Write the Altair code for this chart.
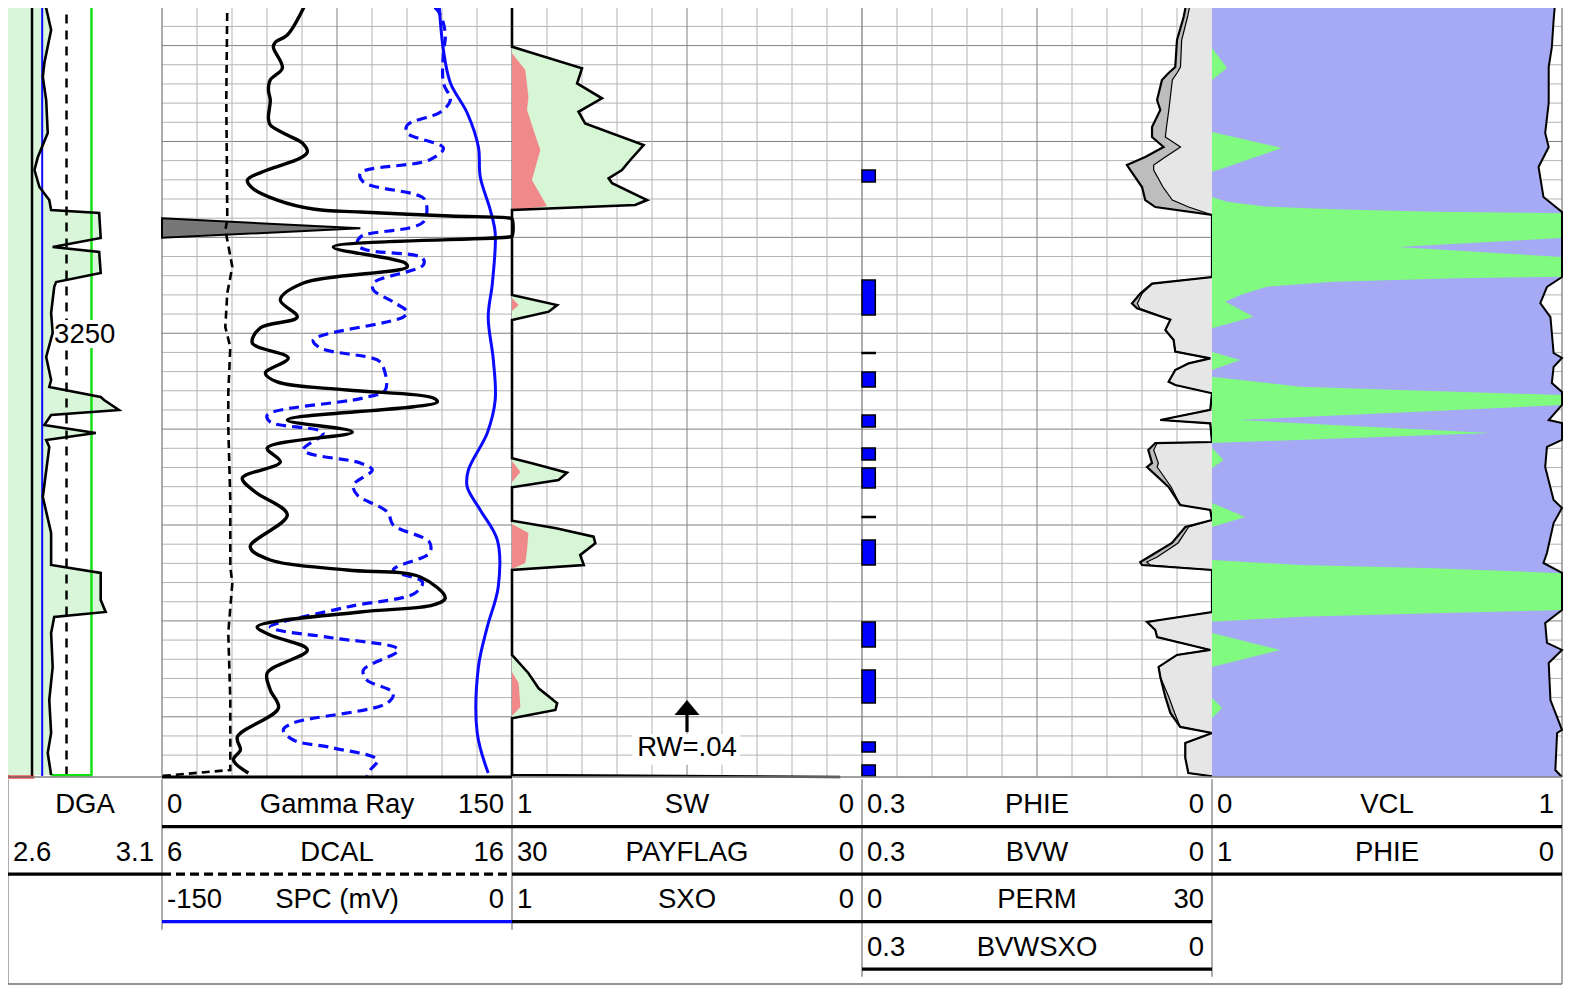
import altair as alt
import pandas as pd

DEPTH_TOP, DEPTH_BOT = 3216.08, 3296.28
DEPTH_MARK = 3250

DGA_DOM = [2.6, 3.1]
GR_DOM = [0, 150]
DCAL_DOM = [6, 16]
SPC_DOM = [-150, 0]
SW_DOM = [1, 0]
PHIE_DOM = [0.3, 0]
PERM_DOM = [0, 30]
VCL_DOM = [0, 1]

# Track 1 : DGA (depth, value)
DGA_CURVE = [(3215.25, 2.718), (3218.38, 2.740), (3221.82, 2.718), (3223.28, 2.713), (3225.68, 2.724),
             (3229.12, 2.729), (3231.62, 2.697), (3232.98, 2.686), (3234.75, 2.702), (3236.11, 2.734),
             (3237.15, 2.740), (3237.46, 2.896), (3240.07, 2.901), (3241.01, 2.745), (3241.53, 2.896),
             (3243.72, 2.901), (3244.66, 2.756), (3245.18, 2.750), (3247.89, 2.740), (3249.97, 2.745),
             (3252.48, 2.724), (3254.88, 2.740), (3255.61, 2.734), (3256.65, 2.901), (3256.96, 2.912),
             (3258.0, 2.960), (3258.53, 2.740), (3259.57, 2.718), (3260.4, 2.885), (3261.13, 2.724),
             (3261.86, 2.734), (3267.08, 2.713), (3270.83, 2.740), (3274.17, 2.740), (3275.0, 2.901),
             (3277.82, 2.901), (3279.07, 2.917), (3279.59, 2.750), (3281.26, 2.740), (3284.81, 2.745),
             (3288.25, 2.734), (3291.69, 2.740), (3293.77, 2.729), (3296.07, 2.740)]
T1_BLACK = 2.678
T1_BLUE = 2.711
T1_DASHED = 2.79
T1_GREEN_CURVE = [(3215.25, 2.871), (3296.1, 2.871), (3296.1, 2.74)]
T1_RED = [2.6, 2.685]
DEPTH_LABEL_BOX = [2.746, 2.953, 3248.62, 3251.54]
DEPTH_LABEL_X = 2.849

# Track 2 : Gamma Ray, DCAL, SPC and a dashed blue curve (on the SPC scale)
GR_CURVE = [(3215.25, 62.3), (3218.9, 53.7), (3219.63, 48.6), (3220.15, 47.7), (3222.34, 51.6), (3223.59, 46.4),
            (3224.64, 45.6), (3225.68, 46.4), (3227.56, 45.6), (3228.29, 46.4), (3229.33, 53.7), (3230.16, 60.1),
            (3231.1, 62.3), (3231.73, 59.3), (3232.98, 45.1), (3234.02, 36.6), (3234.85, 38.7), (3236.11, 49.4),
            (3237.04, 64.8), (3237.36, 85.0), (3237.77, 123.6), (3237.98, 148.8), (3238.09, 150), (3239.86, 150),
            (3239.96, 148.8), (3241.01, 73.4), (3242.68, 104.3), (3243.09, 105.1), (3244.76, 60.6), (3246.53, 50.7),
            (3248.31, 58.0), (3249.45, 42.1), (3251.02, 38.7), (3252.58, 54.1), (3254.15, 44.3), (3255.08, 49.4),
            (3255.92, 79.4), (3256.75, 116.3), (3257.17, 118.0), (3259.05, 53.7), (3260.3, 81.6), (3261.97, 45.1),
            (3263.43, 50.7), (3265.1, 34.4), (3266.56, 40.0), (3268.95, 53.7), (3272.29, 37.8), (3273.65, 46.4),
            (3274.69, 79.4), (3275.42, 110.7), (3277.61, 121.4), (3278.34, 116.3), (3279.07, 85.0), (3280.63, 40.8),
            (3281.47, 46.4), (3283.03, 62.3), (3285.43, 45.1), (3287.2, 46.4), (3289.08, 49.9), (3292.1, 32.3),
            (3293.46, 33.6), (3294.5, 30.6), (3295.86, 37.0)]
GR_BACKUP = [(3238.01, 0), (3239.06, 85.0), (3240.04, 0)]
DCAL_CURVE = [(3215.25, 7.866), (3225.68, 7.837), (3238.19, 7.866), (3239.23, 7.809), (3240.28, 7.866),
              (3243.09, 8.009), (3245.8, 7.866), (3249.35, 7.809), (3251.44, 7.951), (3256.23, 7.894),
              (3259.78, 7.894), (3267.39, 7.951), (3274.38, 7.951), (3276.05, 8.009), (3281.26, 7.894),
              (3288.25, 7.951), (3295.55, 7.951), (3296.17, 6.0)]
SPC_CURVE = [(3215.25, -31.4), (3220.46, -29.4), (3223.9, -26.4), (3227.03, -19.2), (3230.58, -14.4),
             (3233.71, -13.6), (3237.15, -9.3), (3239.55, -7.2), (3244.76, -8.4), (3248.31, -10.2),
             (3252.79, -8.0), (3256.96, -7.2), (3260.4, -10.6), (3264.26, -18.7), (3266.03, -19.2),
             (3268.43, -13.6), (3271.56, -6.3), (3276.46, -5.9), (3280.63, -10.6), (3284.81, -14.4),
             (3291.69, -14.9), (3295.86, -10.2)]
SPD_CURVE = [(3215.25, -39.3), (3216.29, -32.0), (3218.69, -28.6), (3220.78, -29.4), (3223.9, -29.4),
             (3225.68, -26.4), (3226.93, -30.6), (3228.29, -44.9), (3229.12, -44.9), (3230.68, -29.4),
             (3231.93, -35.4), (3233.29, -65.0), (3234.23, -63.7), (3235.58, -40.6), (3236.11, -37.2),
             (3238.4, -38.0), (3239.96, -65.0), (3240.8, -66.3), (3241.32, -62.2), (3242.15, -38.4),
             (3242.88, -38.0), (3244.76, -59.4), (3245.49, -59.4), (3246.74, -50.9), (3247.78, -44.9),
             (3248.31, -46.6), (3250.71, -85.2), (3251.54, -82.2), (3252.79, -57.7), (3253.52, -55.2),
             (3255.92, -54.3), (3256.75, -63.7), (3258.53, -104.9), (3259.26, -103.6), (3260.4, -80.9),
             (3262.18, -89.4), (3263.53, -65.0), (3264.26, -59.9), (3265.83, -68.0), (3266.87, -66.3),
             (3268.64, -53.4), (3270.0, -50.9), (3271.77, -35.4), (3272.92, -35.4), (3274.69, -50.9),
             (3275.94, -38.4), (3277.09, -41.5), (3278.55, -70.6), (3280.63, -103.6), (3280.95, -100.6),
             (3281.78, -76.6), (3283.03, -48.7), (3285.12, -63.7), (3286.16, -62.2), (3287.52, -50.9),
             (3288.56, -53.4), (3290.65, -93.7), (3291.37, -98.0), (3292.42, -93.7), (3293.25, -76.6),
             (3294.5, -57.7), (3295.55, -60.7), (3296.17, -62.2)]

# Track 3 : SW and SXO
SW_CURVE = [(3215.25, 1.0), (3220.12, 1.0), (3222.37, 0.80), (3223.94, 0.814), (3225.5, 0.743), (3226.9, 0.81),
            (3228.11, 0.791), (3230.37, 0.624), (3231.93, 0.662), (3232.98, 0.686), (3233.84, 0.724),
            (3234.36, 0.714), (3236.11, 0.614), (3236.63, 0.648), (3237.15, 1.0), (3246.01, 1.0),
            (3247.06, 0.871), (3247.75, 0.895), (3248.62, 1.0), (3263.04, 1.0), (3263.56, 0.943),
            (3264.54, 0.843), (3265.3, 0.867), (3266.07, 1.0), (3269.55, 1.0), (3270.34, 0.874),
            (3271.22, 0.767), (3271.9, 0.762), (3273.12, 0.805), (3274.17, 0.795), (3274.69, 1.0),
            (3283.55, 1.0), (3285.46, 0.953), (3287.03, 0.924), (3288.59, 0.871), (3289.29, 0.876),
            (3290.15, 1.0), (3296.07, 1.0), (3296.28, 0.062)]
SXO_CURVE = [(3215.25, 1.0), (3220.81, 1.0), (3222.55, 0.962), (3225.33, 0.953), (3226.72, 0.957),
             (3229.85, 0.929), (3230.89, 0.919), (3234.02, 0.943), (3236.45, 0.905), (3236.75, 0.9),
             (3237.15, 1.0), (3246.33, 1.0), (3247.06, 0.981), (3247.68, 1.0), (3263.32, 1.0),
             (3264.47, 0.976), (3265.51, 1.0), (3269.89, 1.0), (3270.83, 0.953), (3272.6, 0.957),
             (3273.96, 0.962), (3274.59, 1.0), (3285.33, 1.0), (3286.47, 0.981), (3288.98, 0.976),
             (3289.91, 1.0), (3296.28, 1.0)]
RW_LABEL = "RW=.04"
RW_SW = 0.5
RW_HEAD, RW_STEM = 3289.03, (3289.81, 3291.58)
RW_TEXT_DEPTH = 3294.08
RW_BOX = [0.656, 0.348, 3291.8, 3295.0]

# Track 4 : PHIE / BVW (depth, phie, bvw) and PERM blocks (top, bottom, perm)
PHIE_BVW = [(3215.25, 0.0214, 0.018), (3217.02, 0.0243, 0.021), (3219.42, 0.030, 0.026), (3222.24, 0.0315, 0.027),
            (3222.86, 0.0372, 0.030), (3223.59, 0.0429, 0.034), (3225.68, 0.0471, 0.036), (3226.72, 0.0443, 0.037),
            (3228.49, 0.0514, 0.039), (3229.54, 0.0514, 0.040), (3230.58, 0.0415, 0.027), (3231.62, 0.0572, 0.040),
            (3232.46, 0.0729, 0.050), (3232.98, 0.070, 0.050), (3234.75, 0.060, 0.042), (3236.11, 0.0572, 0.034),
            (3236.84, 0.0486, 0.020), (3237.67, 0.0, 0.0), (3244.14, 0.0, 0.0), (3244.83, 0.0514, 0.051),
            (3245.87, 0.0615, 0.060), (3246.9, 0.0686, 0.064), (3247.4, 0.0643, 0.062), (3248.59, 0.0357, 0.0357),
            (3249.66, 0.040, 0.040), (3250.71, 0.0329, 0.0329), (3251.92, 0.0315, 0.0315), (3252.62, 0.0015, 0.0015),
            (3253.14, 0.020, 0.020), (3253.83, 0.0315, 0.0315), (3255.05, 0.0372, 0.0372), (3255.4, 0.0315, 0.0315),
            (3256.26, 0.0, 0.0), (3258.0, 0.0015, 0.0015), (3259.05, 0.0443, 0.0443), (3259.4, 0.0015, 0.0015),
            (3261.34, 0.0, 0.0), (3261.45, 0.0486, 0.047), (3262.18, 0.0546, 0.050), (3263.53, 0.0514, 0.046),
            (3263.95, 0.0557, 0.047), (3266.03, 0.0372, 0.035), (3267.91, 0.0272, 0.0272), (3268.43, 0.0015, 0.0015),
            (3269.48, 0.0, 0.0), (3270.21, 0.0229, 0.020), (3271.87, 0.0343, 0.029), (3273.33, 0.0543, 0.047),
            (3273.86, 0.0615, 0.056), (3274.17, 0.060, 0.053), (3274.69, 0.0, 0.0), (3279.07, 0.0, 0.0),
            (3280.11, 0.0557, 0.0557), (3280.95, 0.0486, 0.0486), (3281.68, 0.0471, 0.0471), (3283.03, 0.0015, 0.0015),
            (3283.55, 0.030, 0.030), (3284.8, 0.0458, 0.0458), (3285.85, 0.0443, 0.0443), (3287.93, 0.040, 0.037),
            (3289.6, 0.0357, 0.032), (3291.06, 0.0272, 0.0272), (3291.69, 0.0, 0.0), (3292.73, 0.0229, 0.0229),
            (3294.29, 0.0229, 0.0229), (3295.86, 0.0203, 0.0203), (3296.2, 0.0, 0.0)]
PERM_BLOCKS = [(3232.98, 3234.23, 1.14), (3244.45, 3248.10, 1.14), (3252.01, 3252.11, 1.14),
               (3254.04, 3255.61, 1.14), (3258.53, 3259.78, 1.14), (3261.97, 3263.22, 1.14),
               (3264.05, 3266.14, 1.14), (3269.11, 3269.22, 1.14), (3271.56, 3274.17, 1.14),
               (3280.11, 3282.72, 1.14), (3285.12, 3288.56, 1.14), (3292.63, 3293.67, 1.14),
               (3295.02, 3296.17, 1.14)]

# Track 5 : VCL and the green fill (on the 0-1 scale)
VCL_CURVE = [(3215.25, 0.981), (3217.34, 0.976), (3220.15, 0.971), (3222.24, 0.962), (3225.99, 0.962),
             (3229.12, 0.952), (3230.58, 0.962), (3232.66, 0.933), (3235.79, 0.947), (3237.36, 1.0),
             (3244.14, 1.0), (3245.18, 0.957), (3246.85, 0.938), (3248.31, 0.967), (3252.06, 0.976),
             (3252.58, 1.0), (3253.52, 0.976), (3255.19, 0.971), (3256.13, 1.0), (3257.48, 1.0),
             (3259.05, 0.962), (3259.36, 1.0), (3261.13, 1.0), (3261.86, 0.957), (3263.95, 0.952),
             (3267.39, 0.976), (3268.22, 1.0), (3269.79, 0.976), (3272.92, 0.957), (3273.96, 0.947),
             (3275.0, 1.0), (3278.86, 1.0), (3280.22, 0.952), (3282.3, 0.957), (3283.03, 1.0),
             (3284.39, 0.962), (3288.25, 0.967), (3291.37, 1.0), (3291.69, 0.986), (3295.55, 0.981),
             (3296.28, 1.0)]
GREEN_CURVE = [(3215.25, 0), (3220.26, 0), (3222.34, 0.043), (3223.59, 0), (3229.01, 0), (3230.68, 0.20),
               (3233.19, 0), (3235.79, 0), (3236.28, 0.043), (3236.8, 0.157), (3237.07, 0.347), (3237.33, 0.633),
               (3237.49, 1.0), (3240.07, 1.0), (3241.01, 0.529), (3242.05, 1.0), (3244.1, 1.0), (3244.27, 0.70),
               (3244.63, 0.347), (3245.15, 0.157), (3246.01, 0.081), (3246.71, 0.038), (3248.28, 0.119),
               (3249.49, 0), (3251.96, 0), (3252.79, 0.081), (3253.83, 0), (3254.53, 0), (3255.58, 0.252),
               (3255.92, 0.538), (3256.44, 1.0), (3257.48, 1.0), (3259.05, 0.076), (3260.4, 0.795),
               (3261.45, 0), (3261.97, 0), (3263.22, 0.033), (3264.05, 0), (3267.7, 0), (3269.16, 0.095),
               (3270.21, 0), (3273.65, 0), (3274.17, 0.252), (3274.51, 0.633), (3275.03, 1.0), (3278.86, 1.0),
               (3279.2, 0.633), (3279.56, 0.252), (3280.08, 0), (3281.26, 0), (3283.03, 0.195), (3284.8, 0),
               (3288.04, 0), (3289.08, 0.029), (3290.12, 0), (3296.28, 0)]

# Header: (track, row, left, centre, right)
HEADER_TEXT = [(0, 1, "", "DGA", ""), (0, 2, "2.6", "", "3.1"),
               (1, 1, "0", "Gamma Ray", "150"), (1, 2, "6", "DCAL", "16"), (1, 3, "-150", "SPC (mV)", "0"),
               (2, 1, "1", "SW", "0"), (2, 2, "30", "PAYFLAG", "0"), (2, 3, "1", "SXO", "0"),
               (3, 1, "0.3", "PHIE", "0"), (3, 2, "0.3", "BVW", "0"), (3, 3, "0", "PERM", "30"),
               (3, 4, "0.3", "BVWSXO", "0"),
               (4, 1, "0", "VCL", "1"), (4, 2, "1", "PHIE", "0")]
HEADER_BLACK_LINES = [(1, 1), (2, 1), (3, 1), (4, 1), (0, 2), (2, 2), (3, 2), (4, 2), (2, 3), (3, 3), (3, 4)]
HEADER_DASHED_LINES = [(1, 2)]
HEADER_BLUE_LINES = [(1, 3)]
HEADER_SEPARATORS = [(0, 4.31), (1, 3.17), (2, 3.17), (3, 4.16), (4, 4.16), (5, 4.31)]

# ---------------- layout ----------------
EDGES = [0, 154, 504, 854, 1204, 1554]
W, H = 1556, 977
PLOT_H = 769
ROW_PX = [771.2, 961.2]
FONT = "Liberation Sans"
FS = 27.5
BLUE = "#0a0aff"


def ys(field="depth"):
    return alt.Y(f"{field}:Q", axis=None,
                 scale=alt.Scale(domain=[DEPTH_TOP, DEPTH_BOT], range=[0, PLOT_H], nice=False, zero=False))


def xt(field, t, dom):
    return alt.X(f"{field}:Q", axis=None,
                 scale=alt.Scale(domain=dom, range=[EDGES[t], EDGES[t + 1]], nice=False, zero=False))


def xl(field):
    return alt.X(f"{field}:Q", axis=None,
                 scale=alt.Scale(domain=[0, 1, 2, 3, 4, 5], range=EDGES, nice=False, zero=False))


def yr(field):
    return alt.Y(f"{field}:Q", axis=None, scale=alt.Scale(domain=[0, 4], range=ROW_PX, nice=False, zero=False))


def frame(pairs, cols):
    d = pd.DataFrame(pairs, columns=cols)
    d["i"] = range(len(d))
    return d


def line(df, field, t, dom, color, width, dash=None, interp="linear"):
    kw = dict(color=color, strokeWidth=width, interpolate=interp)
    if dash:
        kw["strokeDash"] = dash
    return alt.Chart(df).mark_line(**kw).encode(x=xt(field, t, dom), y=ys(), order="i:Q")


def area(df, field, base, t, dom, fill, **kw):
    return alt.Chart(df).mark_area(orient="horizontal", fill=fill, **kw).encode(
        x=xt(field, t, dom), x2=base, y=ys())


layers = []

# grid
gh_minor, gh_major, gv_minor, gv_major = [], [], [], []
for t in range(1, 5):
    for d in range(3218, 3296, 2):
        (gh_major if d % 10 == 0 else gh_minor).append((t, t + 1, d))
    for k in range(1, 10):
        (gv_major if k == 5 else gv_minor).append((t + k / 10, DEPTH_TOP, DEPTH_BOT))
for rows, col in [(gh_minor, "#b4b4b4"), (gh_major, "#808080")]:
    layers.append(alt.Chart(pd.DataFrame(rows, columns=["a", "b", "depth"])).mark_rule(color=col, strokeWidth=1)
                  .encode(x=xl("a"), x2="b:Q", y=ys()))
for rows, col in [(gv_minor, "#b4b4b4"), (gv_major, "#808080")]:
    layers.append(alt.Chart(pd.DataFrame(rows, columns=["tx", "d0", "d1"])).mark_rule(color=col, strokeWidth=1)
                  .encode(x=xl("tx"), y=ys("d0"), y2="d1:Q"))
sep = pd.DataFrame({"tx": [0, 1, 2, 3, 4, 5], "d0": DEPTH_TOP, "d1": DEPTH_BOT})
layers.append(alt.Chart(sep).mark_rule(color="#808080", strokeWidth=1.3).encode(x=xl("tx"), y=ys("d0"), y2="d1:Q"))

# track 1
dga = frame(DGA_CURVE, ["depth", "v"])
layers.append(area(dga, "v", alt.datum(DGA_DOM[0]), 0, DGA_DOM, "#daf6da"))
for val, col, wdt, dash in [(T1_BLACK, "black", 2.5, None), (T1_BLUE, BLUE, 2, None),
                            (T1_DASHED, "black", 2.5, [9, 7])]:
    kw = dict(color=col, strokeWidth=wdt)
    if dash:
        kw["strokeDash"] = dash
    layers.append(alt.Chart(pd.DataFrame({"v": [val], "d0": [DEPTH_TOP - 1], "d1": [DEPTH_BOT - 0.1]}))
                  .mark_rule(**kw).encode(x=xt("v", 0, DGA_DOM), y=ys("d0"), y2="d1:Q"))
layers.append(line(frame(T1_GREEN_CURVE, ["depth", "v"]), "v", 0, DGA_DOM, "#14e014", 2.5))
box = pd.DataFrame({"x0": [DEPTH_LABEL_BOX[0]], "x1": [DEPTH_LABEL_BOX[1]],
                    "d0": [DEPTH_LABEL_BOX[2]], "d1": [DEPTH_LABEL_BOX[3]]})
layers.append(alt.Chart(box).mark_rect(color="white").encode(x=xt("x0", 0, DGA_DOM), x2="x1:Q",
                                                              y=ys("d0"), y2="d1:Q"))
layers.append(line(dga, "v", 0, DGA_DOM, "black", 2.6))
layers.append(alt.Chart(pd.DataFrame({"v": [T1_RED[0]], "v2": [T1_RED[1]], "depth": [DEPTH_BOT]}))
              .mark_rule(color="#e00000", strokeWidth=3).encode(x=xt("v", 0, DGA_DOM), x2="v2:Q", y=ys()))
layers.append(alt.Chart(pd.DataFrame({"v": [DEPTH_LABEL_X], "depth": [DEPTH_MARK], "label": [str(DEPTH_MARK)]}))
              .mark_text(font=FONT, fontSize=FS, align="center", baseline="alphabetic", dy=10, color="black")
              .encode(x=xt("v", 0, DGA_DOM), y=ys(), text="label:N"))

# track 2
layers.append(area(frame(GR_BACKUP, ["depth", "v"]), "v", alt.datum(0), 1, GR_DOM, "#777777",
                   stroke="black", strokeWidth=2))
layers.append(line(frame(DCAL_CURVE, ["depth", "v"]), "v", 1, DCAL_DOM, "black", 2.6, [8, 5]))
layers.append(line(frame(SPD_CURVE, ["depth", "v"]), "v", 1, SPC_DOM, BLUE, 3.2, [10, 6], "catmull-rom"))
layers.append(line(frame(SPC_CURVE, ["depth", "v"]), "v", 1, SPC_DOM, BLUE, 3.0, None, "catmull-rom"))
layers.append(line(frame(GR_CURVE, ["depth", "v"]), "v", 1, GR_DOM, "black", 3.4, None, "catmull-rom"))

# track 3
layers.append(area(frame(SW_CURVE, ["depth", "v"]), "v", alt.datum(1), 2, SW_DOM, "#d6f6d6"))
layers.append(area(frame(SXO_CURVE, ["depth", "v"]), "v", alt.datum(1), 2, SW_DOM, "#f08a8a"))
layers.append(line(frame(SW_CURVE, ["depth", "v"]), "v", 2, SW_DOM, "black", 2.6))
rwbox = pd.DataFrame({"x0": [RW_BOX[0]], "x1": [RW_BOX[1]], "d0": [RW_BOX[2]], "d1": [RW_BOX[3]]})
layers.append(alt.Chart(rwbox).mark_rect(color="white").encode(x=xt("x0", 2, SW_DOM), x2="x1:Q",
                                                                y=ys("d0"), y2="d1:Q"))
layers.append(alt.Chart(pd.DataFrame({"v": [RW_SW], "d0": [RW_STEM[0]], "d1": [RW_STEM[1]]}))
              .mark_rule(color="black", strokeWidth=3.2).encode(x=xt("v", 2, SW_DOM), y=ys("d0"), y2="d1:Q"))
layers.append(alt.Chart(pd.DataFrame({"v": [RW_SW], "depth": [RW_HEAD]}))
              .mark_point(shape="M0,-0.6L1,0.6L-1,0.6Z", size=625, filled=True, color="black", opacity=1)
              .encode(x=xt("v", 2, SW_DOM), y=ys()))
layers.append(alt.Chart(pd.DataFrame({"v": [RW_SW], "depth": [RW_TEXT_DEPTH], "label": [RW_LABEL]}))
              .mark_text(font=FONT, fontSize=FS, align="center", baseline="alphabetic", color="black")
              .encode(x=xt("v", 2, SW_DOM), y=ys(), text="label:N"))

# track 4
pb = frame(PHIE_BVW, ["depth", "phie", "bvw"])
layers.append(area(pb, "bvw", alt.datum(0), 3, PHIE_DOM, "#e6e6e6"))
layers.append(area(pb, "phie", alt.X2("bvw:Q"), 3, PHIE_DOM, "#bdbdbd"))
layers.append(line(pb, "bvw", 3, PHIE_DOM, "black", 1.2))
layers.append(line(pb, "phie", 3, PHIE_DOM, "black", 2.2))
perm = pd.DataFrame(PERM_BLOCKS, columns=["top", "bot", "perm"])
layers.append(alt.Chart(perm).mark_rect(fill="#0000ff", stroke="black", strokeWidth=1.5)
              .encode(x=xt("perm", 3, PERM_DOM), x2=alt.datum(0), y=ys("top"), y2="bot:Q"))

# track 5
layers.append(area(frame(VCL_CURVE, ["depth", "v"]), "v", alt.datum(0), 4, VCL_DOM, "#a6a9f3"))
layers.append(area(frame(GREEN_CURVE, ["depth", "v"]), "v", alt.datum(0), 4, VCL_DOM, "#80fb80"))
layers.append(line(frame(VCL_CURVE, ["depth", "v"]), "v", 4, VCL_DOM, "black", 2))

# plot bottom
layers.append(alt.Chart(pd.DataFrame({"a": [0], "b": [5], "depth": [DEPTH_BOT]}))
              .mark_rule(color="#808080", strokeWidth=1.3).encode(x=xl("a"), x2="b:Q", y=ys()))
layers.append(alt.Chart(pd.DataFrame({"a": [1], "b": [2], "depth": [DEPTH_BOT]}))
              .mark_rule(color="black", strokeWidth=3).encode(x=xl("a"), x2="b:Q", y=ys()))

# header
hs = pd.DataFrame([(t, 0, r) for t, r in HEADER_SEPARATORS], columns=["tx", "r0", "r1"])
layers.append(alt.Chart(hs).mark_rule(color="#808080", strokeWidth=1.3).encode(x=xl("tx"), y=yr("r0"), y2="r1:Q"))
layers.append(alt.Chart(pd.DataFrame({"a": [0], "b": [5], "r": [4.31]}))
              .mark_rule(color="#707070", strokeWidth=1.5).encode(x=xl("a"), x2="b:Q", y=yr("r")))
for rows, col, dash in [(HEADER_BLACK_LINES, "black", None), (HEADER_DASHED_LINES, "black", [9, 5]),
                        (HEADER_BLUE_LINES, BLUE, None)]:
    d = pd.DataFrame([(t, t + 1, r) for t, r in rows], columns=["a", "b", "r"])
    kw = dict(color=col, strokeWidth=3.2)
    if dash:
        kw["strokeDash"] = dash
    layers.append(alt.Chart(d).mark_rule(**kw).encode(x=xl("a"), x2="b:Q", y=yr("r")))

left = [(t, r, l) for t, r, l, c, rr in HEADER_TEXT if l]
cent = [(t + 0.5, r, c) for t, r, l, c, rr in HEADER_TEXT if c]
right = [(t + 1, r, rr) for t, r, l, c, rr in HEADER_TEXT if rr]
for rows, al, dx in [(left, "left", 5), (cent, "center", 0), (right, "right", -8)]:
    d = pd.DataFrame(rows, columns=["tx", "r", "label"])
    layers.append(alt.Chart(d).mark_text(font=FONT, fontSize=FS, align=al, baseline="alphabetic",
                                         dx=dx, dy=-13.4, color="black")
                  .encode(x=xl("tx"), y=yr("r"), text="label:N"))

chart = (alt.layer(*layers)
         .resolve_scale(x="independent", y="independent")
         .properties(width=W, height=H, padding=0, autosize=alt.AutoSizeParams(type="none"),
                     background="white")
         .configure_view(stroke=None))

chart.save("out.html", embed_options={"renderer": "svg", "actions": False})
